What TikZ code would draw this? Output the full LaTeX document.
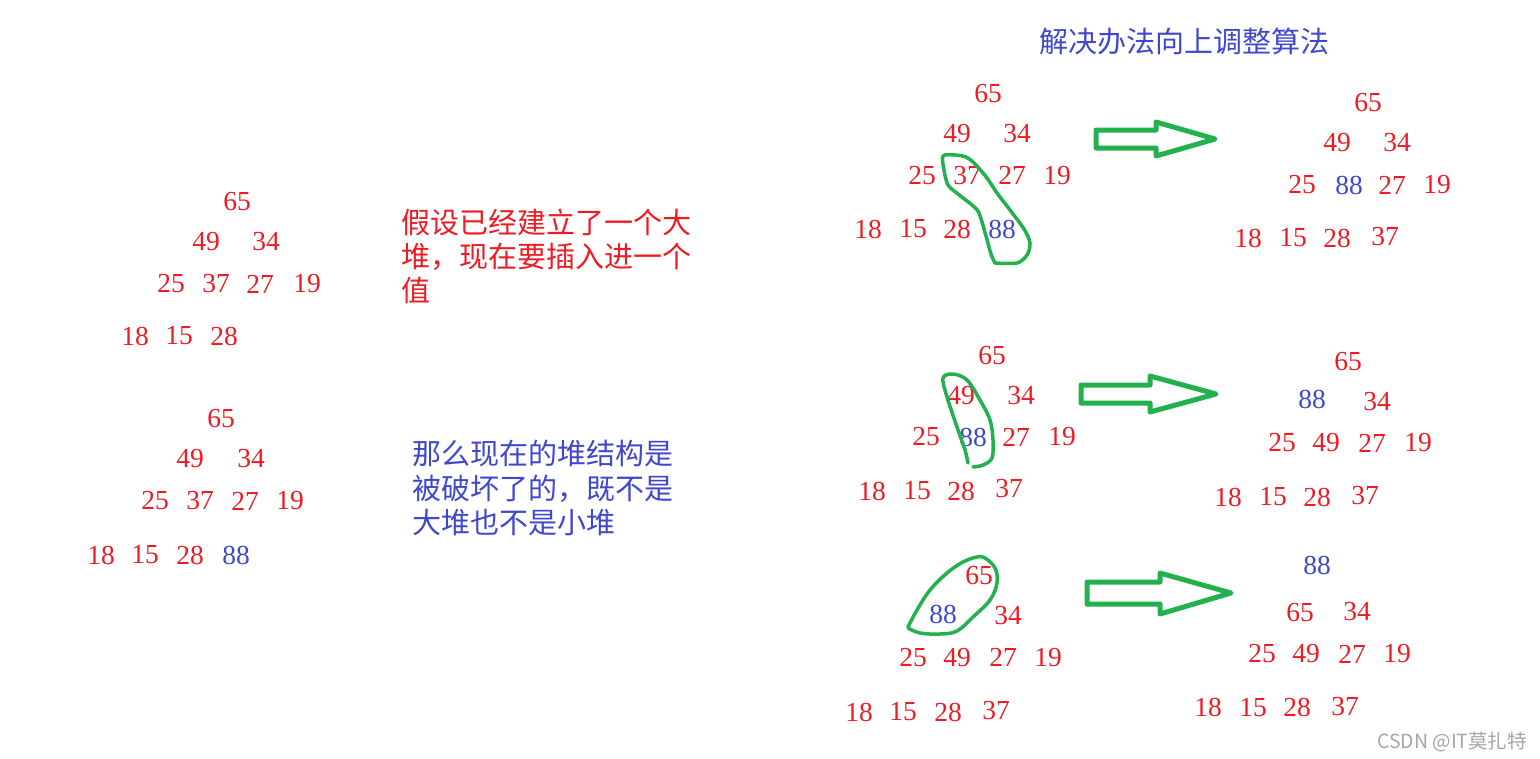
\documentclass[tikz,border=0pt]{standalone}
\usepackage{fontspec}
\setmainfont{Liberation Serif}
\newfontfamily\cjk{Noto Sans CJK SC}
\definecolor{hred}{RGB}{237,28,36}
\definecolor{hblue}{RGB}{63,72,204}
\definecolor{hgreen}{RGB}{34,177,76}
\definecolor{wmgray}{RGB}{165,165,165}
\tikzset{
  num/.style={font=\fontsize{27.5}{27.5}\selectfont, text=hred, inner sep=0pt},
  hl/.style={num, text=hblue},
  cjktext/.style={font=\cjk\fontsize{29}{34}\selectfont, inner sep=0pt, anchor=base west},
  loopline/.style={draw=hgreen, line width=3.5pt, line cap=round, line join=round},
  blockarrow/.style={draw=hgreen, line width=5pt, line join=round}
}
\begin{document}
\begin{tikzpicture}[x=1pt,y=-1pt]
\fill[white] (0,0) rectangle (1540,758);
\useasboundingbox (0,0) rectangle (1540,758);

% ---- left top tree
\foreach \t/\x/\y in {65/237/202, 49/206/242, 34/266/242, 25/171/284, 37/216/284, 27/260/284, 19/307/284, 18/135/336, 15/179/336, 28/224/336}
  \node[num] (LT\t) at (\x,\y) {\t};
% ---- left bottom tree
\foreach \t/\x/\y in {65/221/419, 49/190/459, 34/251/459, 25/155/501, 37/200/501, 27/245/501, 19/290/501, 18/101/555, 15/145/555, 28/190/555}
  \node[num] (LB\t) at (\x,\y) {\t};
\node[hl] (LB88) at (236,555) {88};

% ---- texts
\node[cjktext, text=hred] (tr1) at (401,233) {假设已经建立了一个大};
\node[cjktext, text=hred] (tr2) at (401,267) {堆，现在要插入进一个};
\node[cjktext, text=hred] (tr3) at (401,301) {值};
\node[cjktext, text=hblue] (tb1) at (412,464.5) {那么现在的堆结构是};
\node[cjktext, text=hblue] (tb2) at (412,499.5) {被破坏了的，既不是};
\node[cjktext, text=hblue] (tb3) at (412,533) {大堆也不是小堆};
\node[cjktext, text=hblue] (title) at (1039,52.5) {解决办法向上调整算法};

% ---- tree A (before)
\foreach \t/\x/\y in {65/988/94, 49/957/134, 34/1017/134, 25/922/175.5, 37/967/175.5, 27/1012/175.5, 19/1057/175.5, 18/868/229, 15/913/229, 28/957/229}
  \node[num] (A\t) at (\x,\y) {\t};
\node[hl] (A88) at (1002,229) {88};
% ---- tree A (after)
\foreach \t/\x/\y in {65/1368/103, 49/1337/143, 34/1397/143, 25/1302/185, 27/1392/185, 19/1437/185, 18/1248/238, 15/1293/238, 28/1337/238, 37/1385/237}
  \node[num] (AA\t) at (\x,\y) {\t};
\node[hl] (AA88) at (1349,185) {88};

% ---- tree B (before)
\foreach \t/\x/\y in {65/992/355.5, 49/961/396, 34/1021/396, 25/926/437, 27/1016/437, 19/1062/437, 18/872/491, 15/917/491, 28/961/491, 37/1009/489}
  \node[num] (B\t) at (\x,\y) {\t};
\node[hl] (B88) at (973,437) {88};
% ---- tree B (after)
\foreach \t/\x/\y in {65/1348/362, 34/1377/402, 25/1282/443, 49/1326/443, 27/1372/443, 19/1418/443, 18/1228/497, 15/1273/497, 28/1317/497, 37/1365/496}
  \node[num] (BB\t) at (\x,\y) {\t};
\node[hl] (BB88) at (1312,399) {88};

% ---- tree C (before)
\foreach \t/\x/\y in {65/979/576, 34/1008/616, 25/913/657.5, 49/957/657.5, 27/1003/657.5, 19/1048/657.5, 18/859/712, 15/903/712, 28/948/712, 37/996/711}
  \node[num] (C\t) at (\x,\y) {\t};
\node[hl] (C88) at (943,614) {88};
% ---- tree C (after)
\foreach \t/\x/\y in {65/1300/613, 34/1357/612, 25/1262/654, 49/1306/654, 27/1352/654, 19/1397/654, 18/1208/707.5, 15/1253/707.5, 28/1297/707.5, 37/1345/707}
  \node[num] (CC\t) at (\x,\y) {\t};
\node[hl] (CC88) at (1317,565.5) {88};

% ---- green loops
\draw[loopline] plot[smooth, tension=0.5] coordinates {(995,263) (991,254) (986,236) (979,213) (972,205) (958,194) (948,185) (944,170) (943,156) (955,155) (966,157) (974,163) (987,178) (997,193) (1010,210) (1024,229) (1030,243) (1027,255) (1017,263) (995,263)};
\draw[loopline] plot[smooth, tension=0.55] coordinates {(968,463) (965,450) (957,427) (947,397) (943,378) (953,374) (967,380) (980,400) (990,420) (993,440) (992,458) (983,465) (973,467)};
\draw[loopline] plot[smooth, tension=0.6] coordinates {(908,627) (917,610) (930,590) (947,573) (963,562) (977,557) (985,558) (995,568) (997,583) (990,600) (973,617) (957,631) (940,634) (920,633) (908,628)};

% ---- block arrows
\draw[blockarrow] (1096,130) -- (1156,130) -- (1156,122) -- (1215,139) -- (1156,156) -- (1156,148) -- (1096,148) -- cycle;
\draw[blockarrow] (1081,385) -- (1150,385) -- (1150,376) -- (1216,394) -- (1150,412) -- (1150,403) -- (1081,403) -- cycle;
\draw[blockarrow] (1087,582) -- (1160,582) -- (1160,573) -- (1231,593) -- (1160,614) -- (1160,604) -- (1087,604) -- cycle;

% ---- watermark
\node[font=\cjk\fontsize{19.5}{19.5}\selectfont, text=wmgray, inner sep=0pt, anchor=base west] (wm) at (1377,748) {CSDN @IT莫扎特};
\end{tikzpicture}
\end{document}
